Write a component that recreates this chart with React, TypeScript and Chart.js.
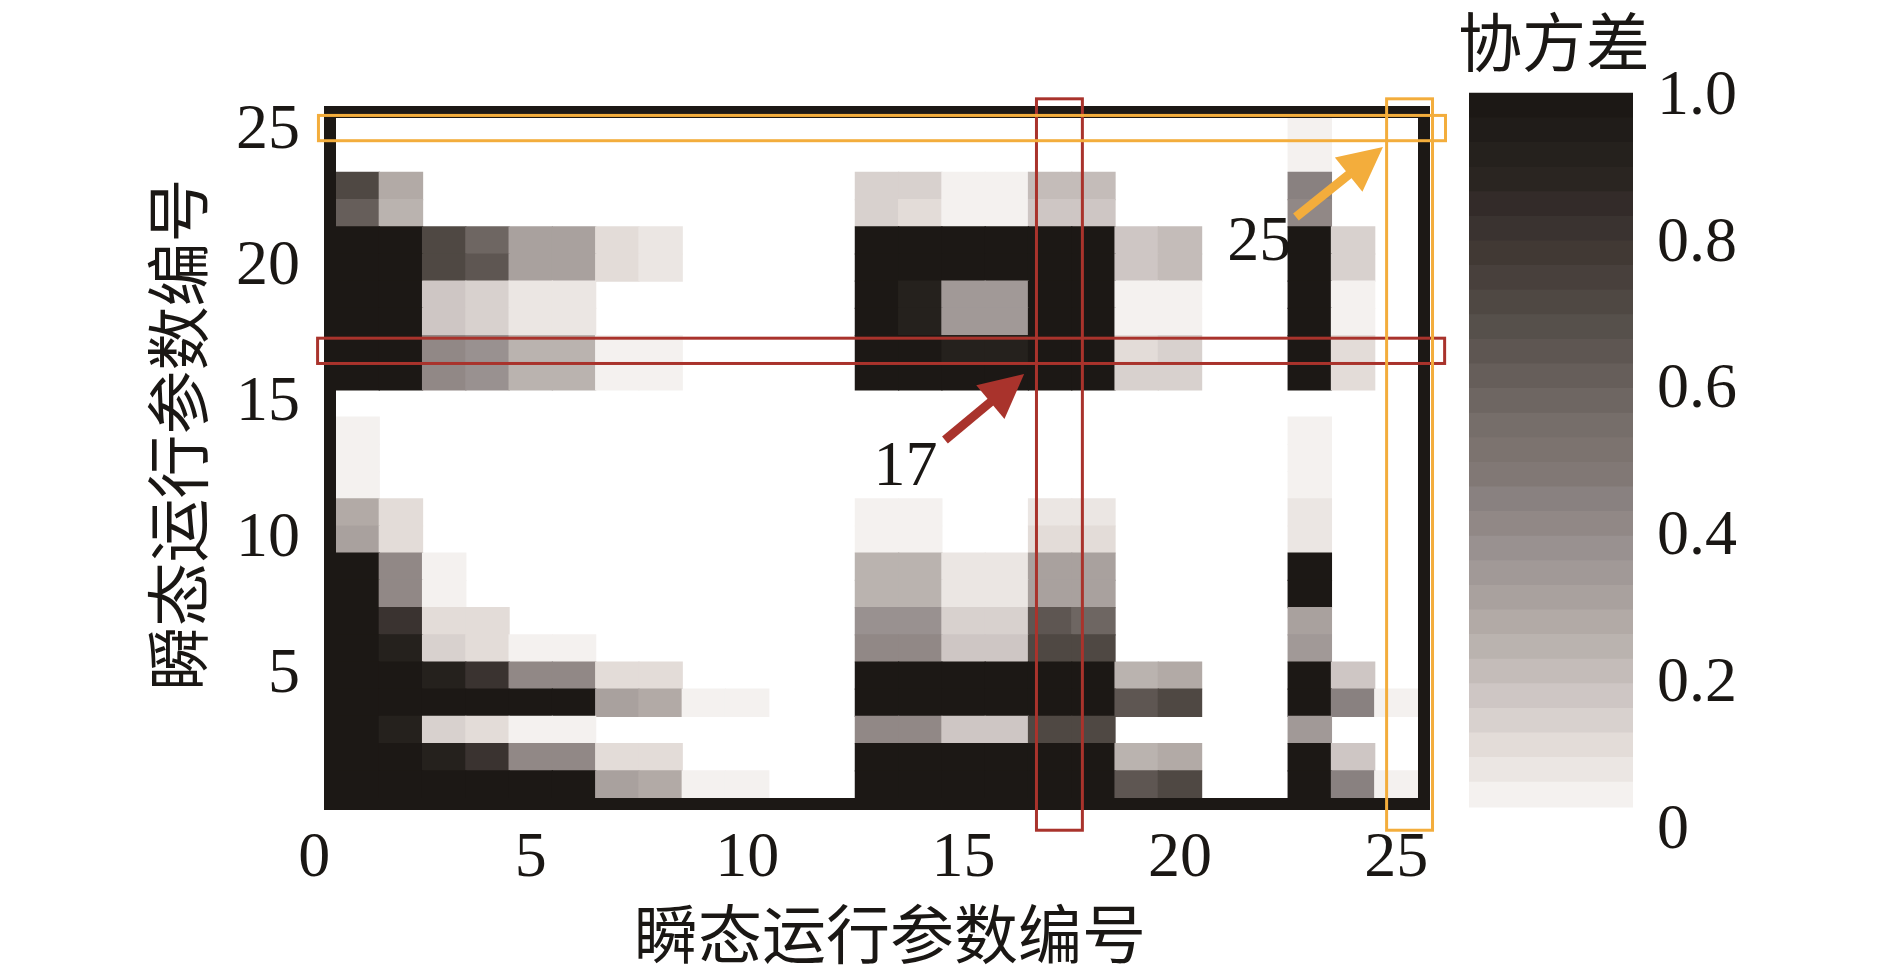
import React, { useEffect, useRef } from 'react';
import { Chart, registerables } from 'chart.js';

Chart.register(...registerables);

// ---------------- data ----------------
const columnIds = [1, 2, 3, 4, 5, 6, 7, 8, 9, 10, 11, 12, 13, 14, 15, 16, 17, 18, 19, 20, 21, 22, 23, 24, 25];
// rows listed from top (25) to bottom (1)
const rowIds = [25, 24, 23, 22, 21, 20, 19, 18, 17, 16, 15, 14, 13, 12, 11, 10, 9, 8, 7, 6, 5, 4, 3, 2, 1];

const covarianceRows: number[][] = [
  [0, 0, 0, 0, 0, 0, 0, 0, 0, 0, 0, 0, 0, 0, 0, 0, 0, 0, 0, 0, 0, 0, 0.02, 0, 0],
  [0, 0, 0, 0, 0, 0, 0, 0, 0, 0, 0, 0, 0, 0, 0, 0, 0, 0, 0, 0, 0, 0, 0.02, 0, 0],
  [0.7, 0.25, 0, 0, 0, 0, 0, 0, 0, 0, 0, 0, 0.11, 0.11, 0.02, 0.02, 0.18, 0.18, 0, 0, 0, 0, 0.43, 0, 0],
  [0.62, 0.21, 0, 0, 0, 0, 0, 0, 0, 0, 0, 0, 0.11, 0.07, 0.02, 0.02, 0.14, 0.14, 0, 0, 0, 0, 0.39, 0, 0],
  [1, 1, 0.7, 0.58, 0.29, 0.29, 0.07, 0.04, 0, 0, 0, 0, 1, 1, 1, 1, 1, 1, 0.14, 0.18, 0, 0, 1, 0.11, 0],
  [1, 1, 0.7, 0.64, 0.29, 0.29, 0.07, 0.04, 0, 0, 0, 0, 1, 1, 1, 1, 1, 1, 0.14, 0.18, 0, 0, 1, 0.11, 0],
  [1, 1, 0.14, 0.11, 0.04, 0.04, 0, 0, 0, 0, 0, 0, 1, 0.93, 0.32, 0.32, 1, 1, 0.02, 0.02, 0, 0, 1, 0.02, 0],
  [1, 1, 0.14, 0.11, 0.04, 0.04, 0, 0, 0, 0, 0, 0, 1, 0.93, 0.32, 0.32, 1, 1, 0.02, 0.02, 0, 0, 1, 0.02, 0],
  [1, 1, 0.39, 0.36, 0.21, 0.21, 0.02, 0.02, 0, 0, 0, 0, 1, 1, 0.93, 0.93, 1, 1, 0.07, 0.11, 0, 0, 1, 0.07, 0],
  [1, 1, 0.39, 0.36, 0.21, 0.21, 0.02, 0.02, 0, 0, 0, 0, 1, 1, 1, 1, 1, 1, 0.11, 0.11, 0, 0, 1, 0.07, 0],
  [0, 0, 0, 0, 0, 0, 0, 0, 0, 0, 0, 0, 0, 0, 0, 0, 0, 0, 0, 0, 0, 0, 0, 0, 0],
  [0.02, 0, 0, 0, 0, 0, 0, 0, 0, 0, 0, 0, 0, 0, 0, 0, 0, 0, 0, 0, 0, 0, 0.02, 0, 0],
  [0.02, 0, 0, 0, 0, 0, 0, 0, 0, 0, 0, 0, 0, 0, 0, 0, 0, 0, 0, 0, 0, 0, 0.02, 0, 0],
  [0.02, 0, 0, 0, 0, 0, 0, 0, 0, 0, 0, 0, 0, 0, 0, 0, 0, 0, 0, 0, 0, 0, 0.02, 0, 0],
  [0.25, 0.07, 0, 0, 0, 0, 0, 0, 0, 0, 0, 0, 0.02, 0.02, 0, 0, 0.04, 0.04, 0, 0, 0, 0, 0.04, 0, 0],
  [0.29, 0.07, 0, 0, 0, 0, 0, 0, 0, 0, 0, 0, 0.02, 0.02, 0, 0, 0.07, 0.07, 0, 0, 0, 0, 0.04, 0, 0],
  [1, 0.39, 0.02, 0, 0, 0, 0, 0, 0, 0, 0, 0, 0.21, 0.21, 0.04, 0.04, 0.29, 0.29, 0, 0, 0, 0, 1, 0, 0],
  [1, 0.39, 0.02, 0, 0, 0, 0, 0, 0, 0, 0, 0, 0.21, 0.21, 0.04, 0.04, 0.29, 0.29, 0, 0, 0, 0, 1, 0, 0],
  [1, 0.82, 0.07, 0.07, 0, 0, 0, 0, 0, 0, 0, 0, 0.36, 0.36, 0.11, 0.11, 0.64, 0.58, 0, 0, 0, 0, 0.29, 0, 0],
  [1, 0.93, 0.11, 0.07, 0.02, 0.02, 0, 0, 0, 0, 0, 0, 0.39, 0.39, 0.14, 0.14, 0.72, 0.72, 0, 0, 0, 0, 0.32, 0, 0],
  [1, 1, 0.93, 0.82, 0.39, 0.39, 0.07, 0.07, 0, 0, 0, 0, 1, 1, 1, 1, 1, 1, 0.21, 0.25, 0, 0, 1, 0.14, 0],
  [1, 1, 1, 1, 1, 1, 0.29, 0.25, 0.02, 0.02, 0, 0, 1, 1, 1, 1, 1, 1, 0.64, 0.72, 0, 0, 1, 0.43, 0.02],
  [1, 0.93, 0.11, 0.07, 0.02, 0.02, 0, 0, 0, 0, 0, 0, 0.39, 0.39, 0.14, 0.14, 0.72, 0.72, 0, 0, 0, 0, 0.32, 0, 0],
  [1, 1, 0.93, 0.82, 0.39, 0.39, 0.07, 0.07, 0, 0, 0, 0, 1, 1, 1, 1, 1, 1, 0.21, 0.25, 0, 0, 1, 0.14, 0],
  [1, 1, 1, 1, 1, 1, 0.29, 0.25, 0.02, 0.02, 0, 0, 1, 1, 1, 1, 1, 1, 0.64, 0.72, 0, 0, 1, 0.43, 0.02],
];

const xTickValues = [0, 5, 10, 15, 20, 25];
const yTickValues = [5, 10, 15, 20, 25];
const colorbarTickValues = [0, 0.2, 0.4, 0.6, 0.8, 1.0];
const colorbarSpan = [0.026, 0.998];

const axisTitle = '瞬态运行参数编号';
const colorbarTitle = '协方差';

// highlight boxes in data units
const highlightBoxes = [
  { x0: 0.04, x1: 26.15, y0: 16.42, y1: 17.46, color: '#a9332c' },
  { x0: 16.65, x1: 17.78, y0: -0.74, y1: 26.26, color: '#a9332c' },
  { x0: 0.06, x1: 26.17, y0: 24.61, y1: 25.65, color: '#f3ad3c' },
  { x0: 24.74, x1: 25.87, y0: -0.74, y1: 26.26, color: '#f3ad3c' },
];
const arrows = [
  { x0: 14.57, y0: 13.66, x1: 16.4, y1: 16.09, color: '#a9332c' },
  { x0: 22.68, y0: 21.86, x1: 24.69, y1: 24.43, color: '#f3ad3c' },
];
const callouts = [
  { text: '17', x: 13.66, y: 12.71 },
  { text: '25', x: 21.83, y: 20.98 },
];

// ---------------- style ----------------
const TEXT = '#1a1714';
const FRAME = '#1c1815';
const SERIF = '"Liberation Serif", "Times New Roman", serif';
const CJK = '"Noto Sans CJK SC", sans-serif';
// colour bands, light -> dark
const BAND_COLORS = [
  [244, 241, 239], [235, 230, 227], [227, 220, 216], [216, 209, 206], [206, 198, 196],
  [196, 188, 185], [186, 179, 175], [178, 170, 166], [169, 161, 158], [161, 153, 151],
  [153, 145, 144], [145, 136, 134], [137, 129, 128], [129, 120, 117], [124, 115, 111],
  [118, 110, 106], [110, 102, 98], [102, 94, 90], [94, 86, 82], [86, 80, 75],
  [79, 72, 67], [72, 64, 60], [65, 57, 52], [58, 51, 48], [51, 43, 41],
  [42, 37, 33], [37, 33, 29], [32, 28, 25], [28, 24, 21],
].map(([r, g, b]) => `rgb(${r},${g},${b})`);
const NB = BAND_COLORS.length;

const colorFor = (v: number) => BAND_COLORS[Math.min(NB - 1, Math.floor(v * NB))];

function buildCells() {
  const cells: { x: number; y: [number, number]; v: number }[] = [];
  rowIds.forEach((row, i) => {
    columnIds.forEach((col, j) => {
      const v = covarianceRows[i][j];
      if (v > 0) cells.push({ x: col, y: [row - 0.5, row + 0.5], v });
    });
  });
  return cells;
}

function drawArrow(ctx: CanvasRenderingContext2D, x0: number, y0: number, x1: number, y1: number, color: string) {
  const dx = x1 - x0, dy = y1 - y0;
  const len = Math.hypot(dx, dy);
  const ux = dx / len, uy = dy / len;
  const hl = 44, hw = 22, sw = 9;
  const bx = x1 - ux * hl, by = y1 - uy * hl;
  ctx.strokeStyle = color;
  ctx.lineWidth = sw;
  ctx.lineCap = 'butt';
  ctx.beginPath();
  ctx.moveTo(x0, y0);
  ctx.lineTo(bx + ux * 4, by + uy * 4);
  ctx.stroke();
  ctx.fillStyle = color;
  ctx.beginPath();
  ctx.moveTo(x1, y1);
  ctx.lineTo(bx - uy * hw, by + ux * hw);
  ctx.lineTo(bx + uy * hw, by - ux * hw);
  ctx.closePath();
  ctx.fill();
}

const heatDecor = {
  id: 'heatDecor',
  afterDatasetsDraw(chart: any) {
    const { ctx, chartArea, scales } = chart;
    const xs = scales.x, ys = scales.y;
    ctx.save();
    // frame
    ctx.strokeStyle = FRAME;
    ctx.lineWidth = 12;
    ctx.strokeRect(chartArea.left - 6, chartArea.top - 6, chartArea.right - chartArea.left + 12, chartArea.bottom - chartArea.top + 12);
    // boxes
    ctx.lineWidth = 3;
    for (const b of highlightBoxes) {
      const l = xs.getPixelForValue(b.x0), r = xs.getPixelForValue(b.x1);
      const t = ys.getPixelForValue(b.y1), bt = ys.getPixelForValue(b.y0);
      ctx.strokeStyle = b.color;
      ctx.strokeRect(l + 1.5, t + 1.5, r - l - 3, bt - t - 3);
    }
    // arrows
    for (const a of arrows) {
      drawArrow(ctx, xs.getPixelForValue(a.x0), ys.getPixelForValue(a.y0), xs.getPixelForValue(a.x1), ys.getPixelForValue(a.y1), a.color);
    }
    // callouts
    ctx.fillStyle = TEXT;
    ctx.font = `64px ${SERIF}`;
    ctx.textAlign = 'center';
    ctx.textBaseline = 'middle';
    for (const c of callouts) {
      ctx.fillText(c.text, xs.getPixelForValue(c.x), ys.getPixelForValue(c.y) + 2);
    }
    // axis titles
    ctx.font = `64px ${CJK}`;
    ctx.fillText(axisTitle, xs.getPixelForValue(13.3), chartArea.bottom + 136);
    ctx.translate(chartArea.left - 158, ys.getPixelForValue(13.86));
    ctx.rotate(-Math.PI / 2);
    ctx.fillText(axisTitle, 0, 0);
    ctx.restore();
  },
};

const colorbarDecor = {
  id: 'colorbarDecor',
  afterDraw(chart: any) {
    const { ctx, chartArea } = chart;
    ctx.save();
    ctx.fillStyle = TEXT;
    ctx.font = `64px ${CJK}`;
    ctx.textAlign = 'center';
    ctx.textBaseline = 'middle';
    ctx.fillText(colorbarTitle, (chartArea.left + chartArea.right) / 2 + 3, chartArea.top - 50);
    ctx.restore();
  },
};

export default function App() {
  const heatRef = useRef<HTMLCanvasElement>(null);
  const barRef = useRef<HTMLCanvasElement>(null);

  useEffect(() => {
    const cells = buildCells();
    const tickFont = { family: SERIF, size: 64 };
    const heat = new Chart(heatRef.current as HTMLCanvasElement, {
      type: 'bar',
      data: {
        datasets: [
          {
            data: cells as any,
            backgroundColor: cells.map((c) => colorFor(c.v)),
            borderWidth: 0,
            barPercentage: 1,
            categoryPercentage: 1,
            grouped: false,
            inflateAmount: 0.6,
          } as any,
        ],
      },
      options: {
        responsive: false,
        animation: false,
        events: [],
        devicePixelRatio: 1,
        layout: { padding: { left: 0, top: 118, right: 472, bottom: 0 } },
        plugins: { legend: { display: false }, tooltip: { enabled: false } },
        scales: {
          x: {
            type: 'linear',
            min: 0.5,
            max: 25.5,
            offset: false,
            grid: { display: false, drawTicks: false },
            border: { display: false },
            afterBuildTicks: (s: any) => {
              s.ticks = xTickValues.map((v) => ({ value: v }));
            },
            afterFit: (s: any) => {
              s.height = 180;
            },
            ticks: {
              autoSkip: false,
              maxRotation: 0,
              padding: 23,
              color: TEXT,
              font: tickFont,
              callback: (v: any) => String(v),
            },
          },
          y: {
            type: 'linear',
            min: 0.5,
            max: 25.5,
            grid: { display: false, drawTicks: false },
            border: { display: false },
            afterBuildTicks: (s: any) => {
              s.ticks = yTickValues.map((v) => ({ value: v }));
            },
            afterFit: (s: any) => {
              s.width = 336;
            },
            ticks: {
              autoSkip: false,
              padding: 36,
              color: TEXT,
              font: tickFont,
              callback: (v: any) => String(v),
            },
          },
        },
      } as any,
      plugins: [heatDecor],
    });

    const nb = BAND_COLORS.length;
    const step = (colorbarSpan[1] - colorbarSpan[0]) / nb;
    const bar = new Chart(barRef.current as HTMLCanvasElement, {
      type: 'bar',
      data: {
        labels: [colorbarTitle],
        datasets: BAND_COLORS.map((col, i) => ({
          data: [[colorbarSpan[0] + i * step, colorbarSpan[0] + (i + 1) * step]] as any,
          backgroundColor: col,
          borderWidth: 0,
          barPercentage: 1,
          categoryPercentage: 1,
          grouped: false,
          inflateAmount: 0.6,
        })) as any,
      },
      options: {
        responsive: false,
        animation: false,
        events: [],
        devicePixelRatio: 1,
        layout: { padding: { left: 1469, top: 92, right: 0, bottom: 152 } },
        plugins: { legend: { display: false }, tooltip: { enabled: false } },
        scales: {
          x: { display: false },
          y: {
            position: 'right',
            min: 0,
            max: 1,
            grid: { display: false, drawTicks: false },
            border: { display: false },
            afterBuildTicks: (s: any) => {
              s.ticks = colorbarTickValues.map((v) => ({ value: v }));
            },
            afterFit: (s: any) => {
              s.width = 257;
            },
            ticks: {
              autoSkip: false,
              padding: 24,
              labelOffset: 5,
              color: TEXT,
              font: tickFont,
              callback: (v: any) => (v === 0 ? '0' : Number(v).toFixed(1)),
            },
          },
        },
      } as any,
      plugins: [colorbarDecor],
    });

    return () => {
      heat.destroy();
      bar.destroy();
    };
  }, []);

  const canvasStyle: React.CSSProperties = { position: 'absolute', left: 0, top: 0, width: 1890, height: 978 };
  return (
    <div style={{ position: 'fixed', left: 0, top: 0, width: 1890, height: 978, background: '#ffffff' }}>
      <canvas ref={heatRef} width={1890} height={978} style={canvasStyle} />
      <canvas ref={barRef} width={1890} height={978} style={canvasStyle} />
    </div>
  );
}
